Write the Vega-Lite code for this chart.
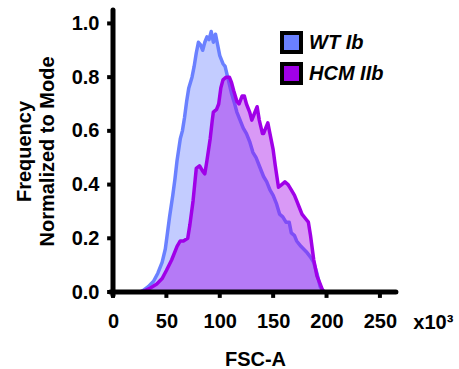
{
  "$schema": "https://vega.github.io/schema/vega-lite/v6.json",
  "width": 284,
  "height": 282,
  "padding": {"left": 14, "top": 7, "right": 0, "bottom": 0},
  "config": {"view": {"stroke": null}, "font": "Liberation Sans"},
  "datasets": {
    "curves": [
    {"series": "WT Ib", "fsc": 25, "freq": 0},
    {"series": "WT Ib", "fsc": 28, "freq": 0.005},
    {"series": "WT Ib", "fsc": 33, "freq": 0.02},
    {"series": "WT Ib", "fsc": 38, "freq": 0.04},
    {"series": "WT Ib", "fsc": 42, "freq": 0.07},
    {"series": "WT Ib", "fsc": 46, "freq": 0.11},
    {"series": "WT Ib", "fsc": 49, "freq": 0.16},
    {"series": "WT Ib", "fsc": 51, "freq": 0.22},
    {"series": "WT Ib", "fsc": 53, "freq": 0.28},
    {"series": "WT Ib", "fsc": 56, "freq": 0.36},
    {"series": "WT Ib", "fsc": 58, "freq": 0.42},
    {"series": "WT Ib", "fsc": 60, "freq": 0.49},
    {"series": "WT Ib", "fsc": 63, "freq": 0.57},
    {"series": "WT Ib", "fsc": 65, "freq": 0.6},
    {"series": "WT Ib", "fsc": 67, "freq": 0.65},
    {"series": "WT Ib", "fsc": 69, "freq": 0.71},
    {"series": "WT Ib", "fsc": 71, "freq": 0.76},
    {"series": "WT Ib", "fsc": 74, "freq": 0.8},
    {"series": "WT Ib", "fsc": 76, "freq": 0.84},
    {"series": "WT Ib", "fsc": 78, "freq": 0.89},
    {"series": "WT Ib", "fsc": 80, "freq": 0.93},
    {"series": "WT Ib", "fsc": 82, "freq": 0.92},
    {"series": "WT Ib", "fsc": 84, "freq": 0.9},
    {"series": "WT Ib", "fsc": 86, "freq": 0.93},
    {"series": "WT Ib", "fsc": 88, "freq": 0.95},
    {"series": "WT Ib", "fsc": 90, "freq": 0.94},
    {"series": "WT Ib", "fsc": 92, "freq": 0.97},
    {"series": "WT Ib", "fsc": 94, "freq": 0.93},
    {"series": "WT Ib", "fsc": 96, "freq": 0.96},
    {"series": "WT Ib", "fsc": 98, "freq": 0.92},
    {"series": "WT Ib", "fsc": 100, "freq": 0.88},
    {"series": "WT Ib", "fsc": 103, "freq": 0.85},
    {"series": "WT Ib", "fsc": 105, "freq": 0.84},
    {"series": "WT Ib", "fsc": 108, "freq": 0.79},
    {"series": "WT Ib", "fsc": 111, "freq": 0.74},
    {"series": "WT Ib", "fsc": 114, "freq": 0.7},
    {"series": "WT Ib", "fsc": 116, "freq": 0.67},
    {"series": "WT Ib", "fsc": 119, "freq": 0.64},
    {"series": "WT Ib", "fsc": 122, "freq": 0.61},
    {"series": "WT Ib", "fsc": 125, "freq": 0.59},
    {"series": "WT Ib", "fsc": 128, "freq": 0.56},
    {"series": "WT Ib", "fsc": 131, "freq": 0.52},
    {"series": "WT Ib", "fsc": 134, "freq": 0.5},
    {"series": "WT Ib", "fsc": 137, "freq": 0.47},
    {"series": "WT Ib", "fsc": 141, "freq": 0.43},
    {"series": "WT Ib", "fsc": 144, "freq": 0.41},
    {"series": "WT Ib", "fsc": 147, "freq": 0.38},
    {"series": "WT Ib", "fsc": 150, "freq": 0.36},
    {"series": "WT Ib", "fsc": 153, "freq": 0.33},
    {"series": "WT Ib", "fsc": 156, "freq": 0.29},
    {"series": "WT Ib", "fsc": 159, "freq": 0.28},
    {"series": "WT Ib", "fsc": 162, "freq": 0.26},
    {"series": "WT Ib", "fsc": 165, "freq": 0.26},
    {"series": "WT Ib", "fsc": 167, "freq": 0.22},
    {"series": "WT Ib", "fsc": 170, "freq": 0.21},
    {"series": "WT Ib", "fsc": 172, "freq": 0.19},
    {"series": "WT Ib", "fsc": 176, "freq": 0.17},
    {"series": "WT Ib", "fsc": 181, "freq": 0.15},
    {"series": "WT Ib", "fsc": 185, "freq": 0.13},
    {"series": "WT Ib", "fsc": 188, "freq": 0.11},
    {"series": "WT Ib", "fsc": 191, "freq": 0.07},
    {"series": "WT Ib", "fsc": 194, "freq": 0.02},
    {"series": "WT Ib", "fsc": 197, "freq": 0},
    {"series": "HCM IIb", "fsc": 25, "freq": 0},
    {"series": "HCM IIb", "fsc": 30, "freq": 0.005},
    {"series": "HCM IIb", "fsc": 35, "freq": 0.015},
    {"series": "HCM IIb", "fsc": 41, "freq": 0.03},
    {"series": "HCM IIb", "fsc": 46, "freq": 0.05},
    {"series": "HCM IIb", "fsc": 50, "freq": 0.08},
    {"series": "HCM IIb", "fsc": 55, "freq": 0.12},
    {"series": "HCM IIb", "fsc": 60, "freq": 0.17},
    {"series": "HCM IIb", "fsc": 63, "freq": 0.19},
    {"series": "HCM IIb", "fsc": 66, "freq": 0.19},
    {"series": "HCM IIb", "fsc": 70, "freq": 0.2},
    {"series": "HCM IIb", "fsc": 72, "freq": 0.25},
    {"series": "HCM IIb", "fsc": 75, "freq": 0.34},
    {"series": "HCM IIb", "fsc": 77, "freq": 0.42},
    {"series": "HCM IIb", "fsc": 78, "freq": 0.46},
    {"series": "HCM IIb", "fsc": 81, "freq": 0.47},
    {"series": "HCM IIb", "fsc": 84, "freq": 0.45},
    {"series": "HCM IIb", "fsc": 86, "freq": 0.44},
    {"series": "HCM IIb", "fsc": 88, "freq": 0.49},
    {"series": "HCM IIb", "fsc": 91, "freq": 0.57},
    {"series": "HCM IIb", "fsc": 93, "freq": 0.64},
    {"series": "HCM IIb", "fsc": 94, "freq": 0.67},
    {"series": "HCM IIb", "fsc": 97, "freq": 0.68},
    {"series": "HCM IIb", "fsc": 99, "freq": 0.7},
    {"series": "HCM IIb", "fsc": 101, "freq": 0.76},
    {"series": "HCM IIb", "fsc": 103, "freq": 0.79},
    {"series": "HCM IIb", "fsc": 106, "freq": 0.8},
    {"series": "HCM IIb", "fsc": 109, "freq": 0.8},
    {"series": "HCM IIb", "fsc": 111, "freq": 0.78},
    {"series": "HCM IIb", "fsc": 113, "freq": 0.75},
    {"series": "HCM IIb", "fsc": 116, "freq": 0.71},
    {"series": "HCM IIb", "fsc": 118, "freq": 0.7},
    {"series": "HCM IIb", "fsc": 121, "freq": 0.73},
    {"series": "HCM IIb", "fsc": 123, "freq": 0.73},
    {"series": "HCM IIb", "fsc": 125, "freq": 0.7},
    {"series": "HCM IIb", "fsc": 128, "freq": 0.67},
    {"series": "HCM IIb", "fsc": 130, "freq": 0.64},
    {"series": "HCM IIb", "fsc": 132, "freq": 0.66},
    {"series": "HCM IIb", "fsc": 135, "freq": 0.69},
    {"series": "HCM IIb", "fsc": 137, "freq": 0.64},
    {"series": "HCM IIb", "fsc": 140, "freq": 0.59},
    {"series": "HCM IIb", "fsc": 141, "freq": 0.59},
    {"series": "HCM IIb", "fsc": 143, "freq": 0.61},
    {"series": "HCM IIb", "fsc": 145, "freq": 0.63},
    {"series": "HCM IIb", "fsc": 147, "freq": 0.59},
    {"series": "HCM IIb", "fsc": 150, "freq": 0.53},
    {"series": "HCM IIb", "fsc": 152, "freq": 0.47},
    {"series": "HCM IIb", "fsc": 155, "freq": 0.39},
    {"series": "HCM IIb", "fsc": 158, "freq": 0.4},
    {"series": "HCM IIb", "fsc": 161, "freq": 0.41},
    {"series": "HCM IIb", "fsc": 164, "freq": 0.4},
    {"series": "HCM IIb", "fsc": 167, "freq": 0.38},
    {"series": "HCM IIb", "fsc": 170, "freq": 0.36},
    {"series": "HCM IIb", "fsc": 172, "freq": 0.34},
    {"series": "HCM IIb", "fsc": 175, "freq": 0.31},
    {"series": "HCM IIb", "fsc": 177, "freq": 0.29},
    {"series": "HCM IIb", "fsc": 181, "freq": 0.27},
    {"series": "HCM IIb", "fsc": 183, "freq": 0.26},
    {"series": "HCM IIb", "fsc": 185, "freq": 0.21},
    {"series": "HCM IIb", "fsc": 188, "freq": 0.12},
    {"series": "HCM IIb", "fsc": 191, "freq": 0.06},
    {"series": "HCM IIb", "fsc": 194, "freq": 0.03},
    {"series": "HCM IIb", "fsc": 196, "freq": 0.01},
    {"series": "HCM IIb", "fsc": 198, "freq": 0}
    ],
    "legendItems": [{"series": "WT Ib"}, {"series": "HCM IIb"}],
    "xTicks": [{"v": 0}, {"v": 50}, {"v": 100}, {"v": 150}, {"v": 200}, {"v": 250}],
    "yTicks": [{"v": 0}, {"v": 0.2}, {"v": 0.4}, {"v": 0.6}, {"v": 0.8}, {"v": 1.0}]
  },
  "layer": [
    {
      "data": {"name": "curves"},
      "transform": [{"filter": "datum.series === 'WT Ib'"}],
      "mark": {"type": "area", "fill": "#6a80ff", "fillOpacity": 0.4, "stroke": "#6a80ff", "strokeWidth": 3.5, "strokeJoin": "round"},
      "encoding": {
        "x": {
          "field": "fsc", "type": "quantitative",
          "scale": {"domain": [0, 266], "nice": false},
          "axis": {
            "title": "FSC-A", "values": [0, 50, 100, 150, 200, 250], "format": "d",
            "grid": false, "labelFlush": false, "domain": false,
            "tickOpacity": 0, "tickSize": 4,
            "labelFont": "Liberation Sans", "labelFontWeight": "bold", "labelFontSize": 20, "labelColor": "black", "labelPadding": 15,
            "titleFont": "Liberation Sans", "titleFontWeight": "bold", "titleFontSize": 20, "titleColor": "black", "titlePadding": 18
          }
        },
        "y": {
          "field": "freq", "type": "quantitative", "stack": null,
          "scale": {"domain": [0, 1.05], "nice": false},
          "axis": {
            "title": ["Frequency", "Normalized to Mode"], "values": [0, 0.2, 0.4, 0.6, 0.8, 1.0], "format": ".1f",
            "grid": false, "labelFlush": false, "domain": false,
            "tickOpacity": 0, "tickSize": 4,
            "labelFont": "Liberation Sans", "labelFontWeight": "bold", "labelFontSize": 20, "labelColor": "black", "labelPadding": 10,
            "titleFont": "Liberation Sans", "titleFontWeight": "bold", "titleFontSize": 20, "titleColor": "black", "titlePadding": 14, "titleLineHeight": 23
          }
        }
      }
    },
    {
      "data": {"name": "curves"},
      "transform": [{"filter": "datum.series === 'HCM IIb'"}],
      "mark": {"type": "area", "fill": "#a000e8", "fillOpacity": 0.4, "stroke": "#a000e8", "strokeWidth": 3.5, "strokeJoin": "round"},
      "encoding": {
        "x": {"field": "fsc", "type": "quantitative"},
        "y": {"field": "freq", "type": "quantitative", "stack": null}
      }
    },
    {
      "data": {"name": "xTicks"},
      "mark": {"type": "rule", "stroke": "black", "strokeWidth": 4},
      "encoding": {
        "x": {"field": "v", "type": "quantitative"},
        "y": {"datum": 0},
        "y2": {"datum": -0.022}
      }
    },
    {
      "data": {"name": "yTicks"},
      "mark": {"type": "rule", "stroke": "black", "strokeWidth": 4},
      "encoding": {
        "y": {"field": "v", "type": "quantitative"},
        "x": {"datum": 0},
        "x2": {"datum": -5.5}
      }
    },
    {
      "data": {"values": [{}]},
      "mark": {"type": "rule", "stroke": "black", "strokeWidth": 5, "strokeCap": "round"},
      "encoding": {
        "x": {"datum": -2.5},
        "x2": {"datum": 265},
        "y": {"datum": 0}
      }
    },
    {
      "data": {"values": [{}]},
      "mark": {"type": "rule", "stroke": "black", "strokeWidth": 5, "strokeCap": "round"},
      "encoding": {
        "x": {"datum": 0},
        "y": {"datum": -0.012},
        "y2": {"datum": 1.05}
      }
    },
    {
      "data": {"name": "legendItems"},
      "mark": {"type": "square", "opacity": 0, "filled": true},
      "encoding": {
        "color": {
          "field": "series", "type": "nominal",
          "scale": {"domain": ["WT Ib", "HCM IIb"], "range": ["#6a80ff", "#a000e8"]},
          "legend": {
            "title": null, "orient": "none", "legendX": 167, "legendY": 21, "padding": 0,
            "symbolType": "square", "symbolSize": 361, "symbolStrokeColor": "black", "symbolStrokeWidth": 4,
            "symbolOpacity": 1,
            "labelFont": "Liberation Sans", "labelFontWeight": "bold", "labelFontStyle": "italic", "labelFontSize": 20, "labelColor": "black",
            "labelOffset": 6, "rowPadding": -4
          }
        }
      }
    },
    {
      "data": {"values": [{}]},
      "mark": {"type": "text", "text": "x10³", "dy": 31, "fontSize": 20, "fontWeight": "bold", "font": "Liberation Sans", "color": "black", "align": "center"},
      "encoding": {"x": {"datum": 300}, "y": {"datum": 0}}
    }
  ]
}
